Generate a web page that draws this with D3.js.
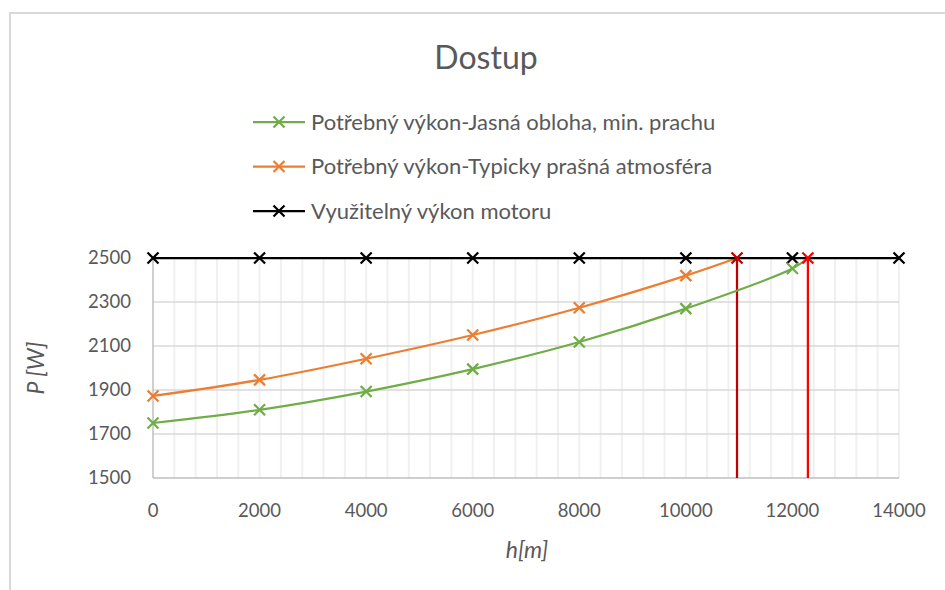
<!DOCTYPE html>
<html>
<head>
<meta charset="utf-8">
<script src="https://cdn.jsdelivr.net/npm/d3@7"></script>
<style>
  body { margin: 0; background: #fff; }
  svg text { font-family: Lato, "Open Sans", sans-serif; fill: #595959; }
</style>
</head>
<body>
<div id="chart"></div>
<script>
// altitude [m] and required / available power [W]
const heights = [0, 2000, 4000, 6000, 8000, 10000, 12000]
const clearSky = [1750, 1810, 1893, 1995, 2118, 2270, 2452]
const dustyAtm = [1873, 1946, 2042, 2150, 2274, 2420]
const motorHeights = [0, 2000, 4000, 6000, 8000, 10000, 12000, 14000]
const motorPower = [2500, 2500, 2500, 2500, 2500, 2500, 2500, 2500]
// ceilings where required power meets available power
const ceilingH = [10960, 12290]
const ceilingP = 2500
const xTicks = [0, 2000, 4000, 6000, 8000, 10000, 12000, 14000]
const yTicks = [1500, 1700, 1900, 2100, 2300, 2500]
const legendNames = ['Potřebný výkon-Jasná obloha, min. prachu', 'Potřebný výkon-Typicky prašná atmosféra', 'Využitelný výkon motoru']

const W = 945, H = 590
const plot = {left: 153, right: 899, top: 258, bottom: 478}
const GREEN = '#70ad47', ORANGE = '#ed7d31', DARKRED = '#c00000', RED = '#ff0000'

const x = d3.scaleLinear().domain([0, 14000]).range([plot.left, plot.right])
const y = d3.scaleLinear().domain([1500, 2500]).range([plot.bottom, plot.top])

const svg = d3.select('#chart').append('svg').attr('width', W).attr('height', H)

// chart frame
svg.append('path')
  .attr('d', `M10,${H} L10,13 L${W},13`)
  .attr('fill', 'none').attr('stroke', '#d9d9d9').attr('stroke-width', 2)

svg.append('text').text('Dostup')
  .attr('x', 486).attr('y', 69).attr('text-anchor', 'middle').attr('font-size', 32)

// minor vertical grid
svg.append('g').selectAll('line')
  .data(d3.range(400, 14001, 400))
  .join('line')
  .attr('x1', d => x(d)).attr('x2', d => x(d))
  .attr('y1', plot.top).attr('y2', plot.bottom)
  .attr('stroke', '#f0f0f0').attr('stroke-width', 2)

// major horizontal grid
svg.append('g').selectAll('line')
  .data(yTicks.slice(1))
  .join('line')
  .attr('x1', plot.left).attr('x2', plot.right)
  .attr('y1', d => y(d)).attr('y2', d => y(d))
  .attr('stroke', '#d9d9d9').attr('stroke-width', 1.5)

// axes lines
svg.append('line')
  .attr('x1', plot.left).attr('x2', plot.left).attr('y1', plot.top).attr('y2', plot.bottom)
  .attr('stroke', '#bfbfbf').attr('stroke-width', 1.5)
svg.append('line')
  .attr('x1', plot.left).attr('x2', plot.right).attr('y1', plot.bottom).attr('y2', plot.bottom)
  .attr('stroke', '#bfbfbf').attr('stroke-width', 1.5)

svg.append('g').selectAll('text')
  .data(yTicks)
  .join('text')
  .text(d => d)
  .attr('x', 131).attr('y', d => y(d)).attr('dy', '0.35em')
  .attr('text-anchor', 'end').attr('font-size', 18.5)

svg.append('g').selectAll('text')
  .data(xTicks)
  .join('text')
  .text(d => d)
  .attr('x', d => x(d)).attr('y', 517)
  .attr('text-anchor', 'middle').attr('font-size', 18.5)

svg.append('text').text('h[m]')
  .attr('x', 527).attr('y', 558).attr('text-anchor', 'middle')
  .attr('font-size', 23).attr('font-style', 'italic')

svg.append('text').text('P [W]')
  .attr('transform', `translate(44, ${(plot.top + plot.bottom) / 2}) rotate(-90)`)
  .attr('text-anchor', 'middle').attr('font-size', 23).attr('font-style', 'italic')

// ceiling lines
svg.append('g').selectAll('line')
  .data(ceilingH)
  .join('line')
  .attr('x1', d => x(d)).attr('x2', d => x(d))
  .attr('y1', y(1500)).attr('y2', y(ceilingP))
  .attr('stroke', (d, i) => i === 0 ? DARKRED : RED).attr('stroke-width', 2.25)

const line = d3.line()
  .x(d => x(d[0])).y(d => y(d[1]))
  .curve(d3.curveCatmullRom.alpha(0.5))

function xMark (g, px, py, color, r) {
  g.append('path')
    .attr('d', `M${px - r},${py - r}L${px + r},${py + r}M${px - r},${py + r}L${px + r},${py - r}`)
    .attr('stroke', color).attr('stroke-width', 2.25).attr('fill', 'none')
}

const series = [
  {pts: heights.map((h, i) => [h, clearSky[i]]).concat([[ceilingH[1], ceilingP]]), color: GREEN, n: heights.length},
  {pts: heights.slice(0, dustyAtm.length).map((h, i) => [h, dustyAtm[i]]).concat([[ceilingH[0], ceilingP]]), color: ORANGE, n: dustyAtm.length},
  {pts: motorHeights.map((h, i) => [h, motorPower[i]]), color: '#000', n: motorHeights.length}
]

const marks = svg.append('g')
series.forEach(s => {
  marks.append('path').attr('d', line(s.pts))
    .attr('fill', 'none').attr('stroke', s.color).attr('stroke-width', 2.25)
})
series.slice().reverse().forEach(s => {
  s.pts.slice(0, s.n).forEach(p => xMark(marks, x(p[0]), y(p[1]), s.color, 5.5))
})
ceilingH.forEach((h, i) => xMark(marks, x(h), y(ceilingP), i === 0 ? DARKRED : RED, 5.5))

// legend
const legendColors = [GREEN, ORANGE, '#000']
const legend = svg.append('g')
legendNames.forEach((name, i) => {
  const ly = 122 + i * 44.5
  legend.append('line').attr('x1', 253).attr('x2', 305).attr('y1', ly).attr('y2', ly)
    .attr('stroke', legendColors[i]).attr('stroke-width', 2.25)
  xMark(legend, 279, ly, legendColors[i], 5.5)
  legend.append('text').text(name)
    .attr('x', 311).attr('y', ly).attr('dy', '0.35em').attr('font-size', 22)
})
</script>
</body>
</html>
